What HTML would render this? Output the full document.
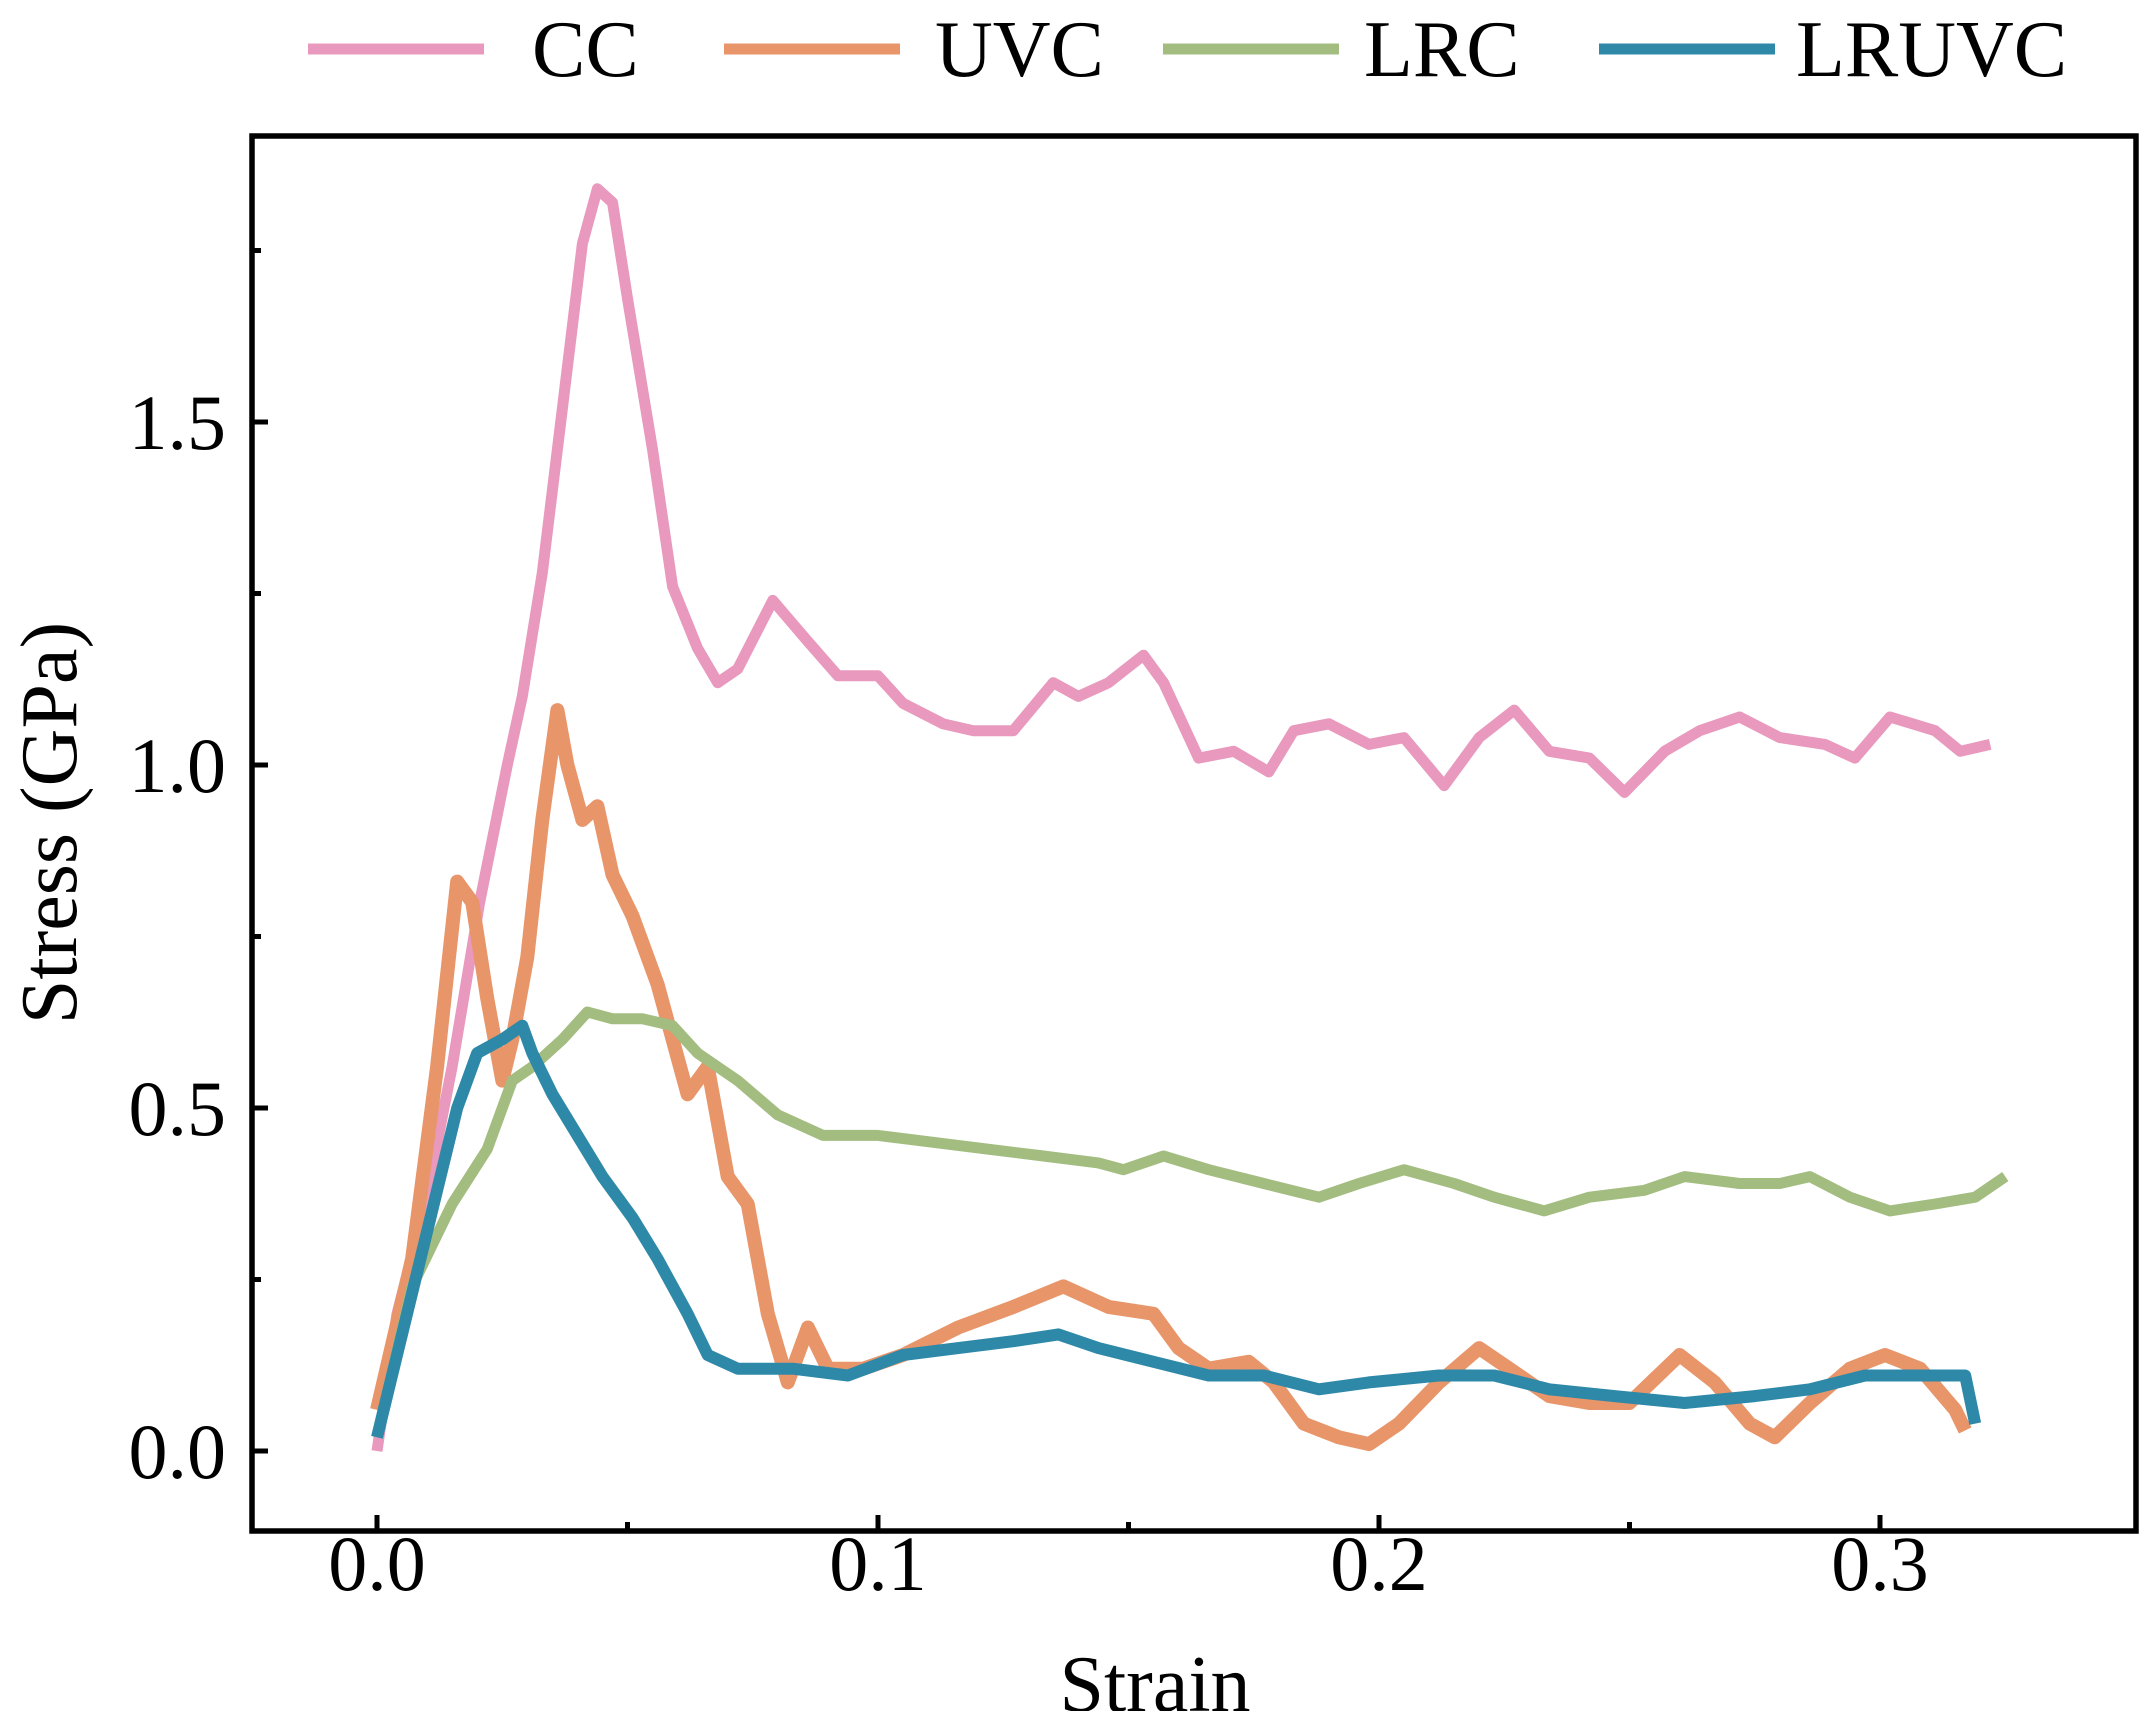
<!DOCTYPE html>
<html><head><meta charset="utf-8"><style>
body{margin:0;background:#fff}
svg{display:block;font-family:"Liberation Serif",serif}
</style></head><body>
<svg id="chart" width="2150" height="1711" viewBox="0 0 2150 1711">
<g id="plot"></g>
</svg>
<script>
const xTicks=[0.0,0.1,0.2,0.3];
const xTickLabels=["0.0","0.1","0.2","0.3"];
const xMinorTicks=[0.05,0.15,0.25];
const yTicks=[0.0,0.5,1.0,1.5];
const yTickLabels=["0.0","0.5","1.0","1.5"];
const yMinorTicks=[0.25,0.75,1.25,1.75];
const seriesNames=["CC","UVC","LRC","LRUVC"];
const ccX=[0,0.004,0.0096,0.015,0.0205,0.026,0.029,0.033,0.037,0.041,0.044,0.047,0.05,0.055,0.059,0.064,0.068,0.072,0.079,0.086,0.092,0.1,0.105,0.113,0.119,0.127,0.135,0.14,0.146,0.153,0.157,0.164,0.171,0.178,0.183,0.19,0.198,0.205,0.213,0.22,0.227,0.234,0.242,0.249,0.257,0.264,0.272,0.28,0.289,0.295,0.302,0.311,0.316,0.322];
const ccY=[0,0.2,0.36,0.56,0.8,1.0,1.1,1.28,1.52,1.76,1.84,1.82,1.68,1.46,1.26,1.17,1.12,1.14,1.24,1.18,1.13,1.13,1.09,1.06,1.05,1.05,1.12,1.1,1.12,1.16,1.12,1.01,1.02,0.99,1.05,1.06,1.03,1.04,0.97,1.04,1.08,1.02,1.01,0.96,1.02,1.05,1.07,1.04,1.03,1.01,1.07,1.05,1.02,1.03];
const uvcX=[0,0.007,0.012,0.016,0.019,0.022,0.025,0.027,0.03,0.033,0.036,0.038,0.041,0.044,0.047,0.051,0.056,0.062,0.066,0.07,0.074,0.078,0.082,0.086,0.09,0.097,0.105,0.116,0.127,0.137,0.146,0.155,0.16,0.166,0.174,0.179,0.185,0.192,0.198,0.204,0.212,0.22,0.226,0.234,0.242,0.25,0.26,0.267,0.274,0.279,0.286,0.294,0.301,0.308,0.315,0.317];
const uvcY=[0.06,0.28,0.56,0.83,0.8,0.66,0.54,0.6,0.72,0.92,1.08,1.0,0.92,0.94,0.84,0.78,0.68,0.52,0.56,0.4,0.36,0.2,0.1,0.18,0.12,0.12,0.14,0.18,0.21,0.24,0.21,0.2,0.15,0.12,0.13,0.1,0.04,0.02,0.01,0.04,0.1,0.15,0.12,0.08,0.07,0.07,0.14,0.1,0.04,0.02,0.07,0.12,0.14,0.12,0.06,0.03];
const lrcX=[0,0.007,0.015,0.022,0.027,0.031,0.037,0.042,0.047,0.053,0.059,0.064,0.072,0.08,0.089,0.1,0.111,0.122,0.133,0.144,0.149,0.157,0.166,0.177,0.188,0.196,0.205,0.215,0.223,0.233,0.242,0.253,0.261,0.272,0.28,0.286,0.294,0.302,0.311,0.319,0.325];
const lrcY=[0.02,0.24,0.36,0.44,0.54,0.56,0.6,0.64,0.63,0.63,0.62,0.58,0.54,0.49,0.46,0.46,0.45,0.44,0.43,0.42,0.41,0.43,0.41,0.39,0.37,0.39,0.41,0.39,0.37,0.35,0.37,0.38,0.4,0.39,0.39,0.4,0.37,0.35,0.36,0.37,0.4];
const lruvcX=[0,0.004,0.008,0.012,0.016,0.02,0.025,0.029,0.031,0.035,0.04,0.045,0.051,0.056,0.062,0.066,0.072,0.083,0.094,0.105,0.116,0.127,0.136,0.144,0.155,0.166,0.177,0.188,0.198,0.212,0.223,0.234,0.247,0.261,0.275,0.286,0.297,0.308,0.317,0.319];
const lruvcY=[0.02,0.14,0.26,0.38,0.5,0.58,0.6,0.62,0.58,0.52,0.46,0.4,0.34,0.28,0.2,0.14,0.12,0.12,0.11,0.14,0.15,0.16,0.17,0.15,0.13,0.11,0.11,0.09,0.1,0.11,0.11,0.09,0.08,0.07,0.08,0.09,0.11,0.11,0.11,0.04];

const NS="http://www.w3.org/2000/svg";
const L=252,R=2136,T=136,B=1531;
const sx=v=>377+v*5010;
const sy=v=>1451-v*686;
const g=document.getElementById('plot');
function mk(tag,attrs,parent){const e=document.createElementNS(NS,tag);for(const k in attrs)e.setAttribute(k,attrs[k]);(parent||g).appendChild(e);return e;}

const series=[[ccX,ccY,"#e899bd",11,"cc-line"],[uvcX,uvcY,"#e8956a",14,"uvc-line"],[lrcX,lrcY,"#a3bd80",11,"lrc-line"],[lruvcX,lruvcY,"#2e89a8",12,"lruvc-line"]];
for(const s of series){
  const d=s[0].map((x,i)=>(i?'L':'M')+sx(x).toFixed(1)+','+sy(s[1][i]).toFixed(1)).join(' ');
  const p=mk('path',{d:d,fill:'none',stroke:s[2],'stroke-width':s[3],'stroke-linejoin':'round'});
  
  
}
const fr=mk('rect',{x:L,y:T,width:R-L,height:B-T,fill:'none',stroke:'#000','stroke-width':5.5});


xTicks.forEach((v,i)=>{
  const t=mk('line',{x1:sx(v),x2:sx(v),y1:B,y2:B-16,stroke:'#000','stroke-width':5});
  
  
  const tx=mk('text',{x:sx(v),y:1590,'font-size':78,'text-anchor':'middle'});
  tx.textContent=xTickLabels[i];
  
  
});
xMinorTicks.forEach(v=>{
  const m=mk('line',{x1:sx(v),x2:sx(v),y1:B,y2:B-9,stroke:'#000','stroke-width':5});
  
  
});
yTicks.forEach((v,i)=>{
  const t=mk('line',{x1:L,x2:L+16,y1:sy(v),y2:sy(v),stroke:'#000','stroke-width':5});
  
  
  const tx=mk('text',{x:226,y:sy(v)+27,'font-size':78,'text-anchor':'end'});
  tx.textContent=yTickLabels[i];
  
  
});
yMinorTicks.forEach(v=>{
  const m=mk('line',{x1:L,x2:L+9,y1:sy(v),y2:sy(v),stroke:'#000','stroke-width':5});
  
  
});
const xl=mk('text',{x:1155,y:1711,'font-size':80,'text-anchor':'middle'});
xl.textContent='Strain';


const yl=mk('text',{x:0,y:0,'font-size':80,'text-anchor':'middle',transform:'translate(76,823) rotate(-90)'});
yl.textContent='Stress (GPa)';


const legX=[[308,532],[724,935],[1163,1364],[1599,1796]];
seriesNames.forEach((n,i)=>{
  const lg=mk('g',{});
  
  
  mk('line',{x1:legX[i][0],x2:legX[i][0]+176,y1:49,y2:49,stroke:series[i][2],'stroke-width':11},lg);
  const t=mk('text',{x:legX[i][1],y:76,'font-size':80},lg);
  t.textContent=n;
});
</script>
</body></html>
